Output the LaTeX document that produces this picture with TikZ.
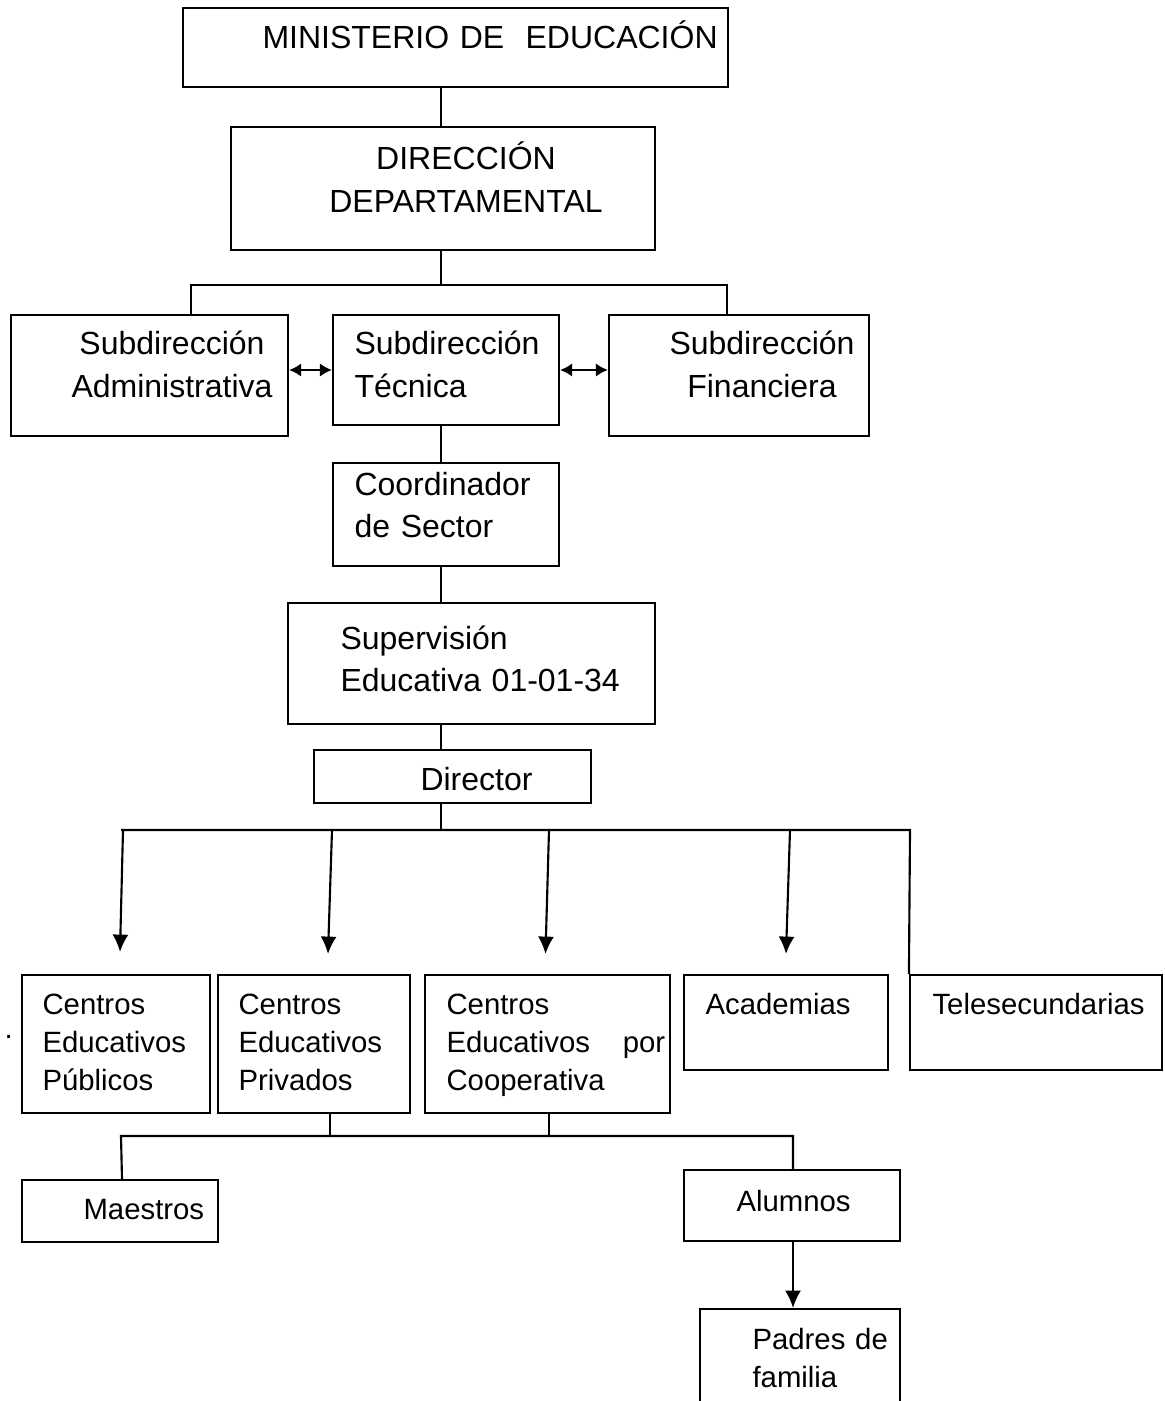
\documentclass[tikz,border=0pt]{standalone}
\usepackage{fontspec}
\setmainfont{Liberation Sans}
\usetikzlibrary{arrows.meta,fit,positioning}

\tikzset{
  box/.style={draw, line width=0.8pt, inner sep=0pt},
  link/.style={line width=0.8pt},
  arr/.style={link, -{Latex[length=6.5pt,width=6pt]}},
  twoway/.style={link, {Latex[length=4.5pt,width=5pt]}-{Latex[length=4.5pt,width=5pt]}},
  txt/.style={inner sep=0pt, anchor=base west, text width=300pt, align=left,
    font=\fontsize{12}{16.1}\selectfont},
  ctxt/.style={inner sep=0pt, anchor=base, text width=200pt, align=center,
    font=\fontsize{12}{16.1}\selectfont},
  stxt/.style={txt, font=\fontsize{11}{14.4}\selectfont}
}

\begin{document}
\begin{tikzpicture}[x=0.375pt, y=-0.375pt]
  \useasboundingbox (0,0) rectangle (1165,1401);

  % boxes
  \node[box, fit={(183,8) (728,87)}] (min) {};
  \node[box, fit={(231,127) (655,250)}] (dir) {};
  \node[box, fit={(11,315) (288,436)}] (sadm) {};
  \node[box, fit={(333,315) (559,425)}] (stec) {};
  \node[box, fit={(609,315) (869,436)}] (sfin) {};
  \node[box, fit={(333,463) (559,566)}] (coord) {};
  \node[box, fit={(288,603) (655,724)}] (sup) {};
  \node[box, fit={(314,750) (591,803)}] (direc) {};
  \node[box, fit={(22,975) (210,1113)}] (pub) {};
  \node[box, fit={(218,975) (410,1113)}] (priv) {};
  \node[box, fit={(425,975) (670,1113)}] (coop) {};
  \node[box, fit={(684,975) (888,1070)}] (acad) {};
  \node[box, fit={(910,975) (1162,1070)}] (tele) {};
  \node[box, fit={(22,1180) (218,1242)}] (mae) {};
  \node[box, fit={(684,1170) (900,1241)}] (alu) {};
  \node[box, fit={(700,1309) (900,1420)}] (pad) {};

  % texts
  \node[txt] (min-t) at (262,49) {MINISTERIO DE~~EDUCACIÓN};
  \node[ctxt] (dir-t) at (466,170) {DIRECCIÓN\\DEPARTAMENTAL};
  \node[ctxt] (sadm-t) at (172,355) {Subdirección\\Administrativa};
  \node[txt] (stec-t) at (354,355) {Subdirección\\Técnica};
  \node[ctxt] (sfin-t) at (762,355) {Subdirección\\Financiera};
  \node[txt] (coord-t) at (354,495) {Coordinador\\de Sector};
  \node[txt] (sup-t) at (340,649) {Supervisión\\Educativa 01-01-34};
  \node[txt] (direc-t) at (420,790) {Director};
  \node[stxt] (pub-t) at (42,1014) {Centros\\Educativos\\Públicos};
  \node[stxt] (priv-t) at (238,1014) {Centros\\Educativos\\Privados};
  \node[stxt] (coop-t) at (446,1014) {Centros\\\makebox[82pt][l]{Educativos\hfill por}\\Cooperativa};
  \node[stxt] (acad-t) at (705,1014) {Academias};
  \node[stxt] (tele-t) at (932,1014) {Telesecundarias};
  \node[stxt] (mae-t) at (83,1219) {Maestros};
  \node[stxt] (alu-t) at (736,1211) {Alumnos};
  \node[stxt] (pad-t) at (752,1349) {Padres de\\familia};
  \node[stxt] (dot) at (4,1038) {.};

  % spine and buses
  \coordinate (spine) at (441,0);
  \coordinate (bus1) at (441,285);
  \coordinate (bus1l) at (191,285);
  \coordinate (bus1r) at (727,285);
  \coordinate (bus2) at (441,830);
  \coordinate (bus2l) at (121,830);
  \coordinate (bus2r) at (910,830);
  \coordinate (bus3l) at (121,1136);
  \coordinate (bus3r) at (793,1136);
  \coordinate (c1) at (330,1136);
  \coordinate (c2) at (549,1136);

  \draw[link] (spine |- min.south) -- (spine |- dir.north);
  \draw[link] (spine |- dir.south) -- (bus1);
  \draw[link] (sadm.north -| bus1l) -- (bus1l) -- (bus1r) -- (sfin.north -| bus1r);
  \draw[twoway] (sadm.east |- stec.west) -- (stec.west);
  \draw[twoway] (stec.east) -- (sfin.west |- stec.east);
  \draw[link] (spine |- stec.south) -- (spine |- coord.north);
  \draw[link] (spine |- coord.south) -- (spine |- sup.north);
  \draw[link] (spine |- sup.south) -- (spine |- direc.north);
  \draw[link] (spine |- direc.south) -- (bus2);
  \draw[link] (bus2l) -- (bus2r) -- (tele.north west);

  % arrows to the centres
  \coordinate (a1) at (123,830);
  \coordinate (a2) at (332,830);
  \coordinate (a3) at (549,830);
  \coordinate (a4) at (790,830);
  \draw[arr] (a1) -- ([shift={(4,-22)}]pub.north);
  \draw[arr] (a2) -- ([shift={(14,-20)}]priv.north);
  \draw[arr] (a3) -- ([shift={(-2,-20)}]coop.north);
  \draw[arr] (a4) -- ([shift={(0,-20)}]acad.north);

  % lower level
  \draw[link] (priv.south -| c1) -- (c1);
  \draw[link] (coop.south -| c2) -- (c2);
  \draw[link] (mae.north -| 122,0) -- (bus3l) -- (bus3r) -- (alu.north -| bus3r);
  \draw[arr] (alu.south -| bus3r) -- (pad.north -| bus3r);
\end{tikzpicture}
\end{document}
